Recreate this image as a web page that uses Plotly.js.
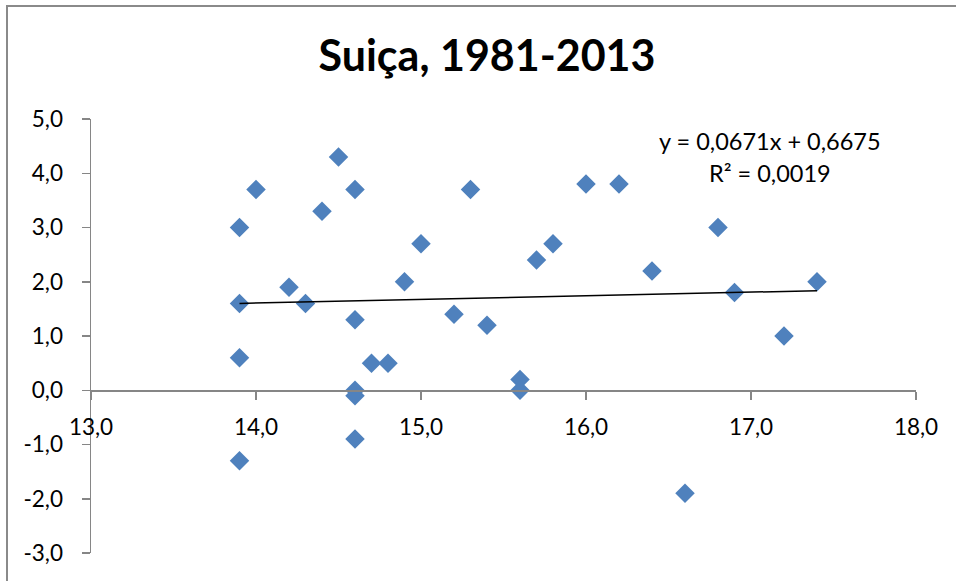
<!DOCTYPE html>
<html>
<head>
<meta charset="utf-8">
<script src="https://cdn.plot.ly/plotly-3.0.1.min.js"></script>
<style>
  html, body { margin: 0; padding: 0; background: #ffffff; }
  #wrap { position: relative; width: 956px; height: 581px; overflow: hidden; }
  #chart { position: absolute; left: 0; top: 0; width: 956px; height: 581px; }
  #frame { position: absolute; left: 6px; top: 5px; width: 1200px; height: 900px;
           border-left: 2px solid #8a8a8a; border-top: 2px solid #8a8a8a; pointer-events: none; }
</style>
</head>
<body>
<div id="wrap">
  <div id="chart"></div>
  <div id="frame"></div>
</div>
<script>
// Data (Suiça, 1981-2013)
const xVals = [13.9, 13.9, 13.9, 13.9, 14.0, 14.2, 14.3, 14.4, 14.5, 14.6, 14.6, 14.6, 14.6, 14.6,
               14.7, 14.8, 14.9, 15.0, 15.2, 15.3, 15.4, 15.6, 15.6, 15.7, 15.8, 16.0, 16.2, 16.4,
               16.6, 16.8, 16.9, 17.2, 17.4];
const yVals = [3.0, 1.6, 0.6, -1.3, 3.7, 1.9, 1.6, 3.3, 4.3, 3.7, 1.3, 0.0, -0.1, -0.9,
               0.5, 0.5, 2.0, 2.7, 1.4, 3.7, 1.2, 0.2, 0.0, 2.4, 2.7, 3.8, 3.8, 2.2,
               -1.9, 3.0, 1.8, 1.0, 2.0];
const trendSlope = 0.0671;
const trendIntercept = 0.6675;
const rSquared = 0.0019;
const titleText = 'Suiça, 1981-2013';
const xTicks = [13, 14, 15, 16, 17, 18];
const yTicks = [-3, -2, -1, 0, 1, 2, 3, 4, 5];

const fmt = (v, d) => v.toFixed(d).replace('.', ',');

const xMin = Math.min(...xVals), xMax = Math.max(...xVals);
const trendX = [xMin, xMax];
const trendY = trendX.map(x => trendSlope * x + trendIntercept);

const FONT = 'Lato, "Open Sans", sans-serif';
const AXIS_COLOR = '#868686';

const traces = [
  {
    type: 'scatter', mode: 'markers', x: xVals, y: yVals,
    marker: { symbol: 'diamond', size: 15, color: '#4F81BD', line: { width: 0 } },
    hoverinfo: 'x+y', showlegend: false
  },
  {
    type: 'scatter', mode: 'lines', x: trendX, y: trendY,
    line: { color: '#000000', width: 1.5 }, hoverinfo: 'skip', showlegend: false
  }
];

const layout = {
  width: 956, height: 581,
  margin: { l: 91, r: 40, t: 119, b: 28, pad: 0 },
  paper_bgcolor: 'rgba(0,0,0,0)', plot_bgcolor: 'rgba(0,0,0,0)',
  separators: ', ',
  font: { family: FONT, size: 22, color: '#000000' },
  title: {
    text: '<b>' + titleText + '</b>',
    font: { family: FONT, size: 43, color: '#000000' },
    xref: 'container', yref: 'container',
    x: 487 / 956, y: 1 - 56 / 581, xanchor: 'center', yanchor: 'middle'
  },
  xaxis: {
    range: [13, 18], tickvals: xTicks, ticktext: xTicks.map(v => fmt(v, 1)),
    showgrid: false, zeroline: false, showline: true, linecolor: AXIS_COLOR, linewidth: 1.5,
    ticks: 'outside', ticklen: 8, tickwidth: 1.5, tickcolor: AXIS_COLOR,
    anchor: 'free', position: 0.375, ticklabelstandoff: 8,
    tickfont: { family: FONT, size: 22.5, color: '#000000' }, fixedrange: true
  },
  yaxis: {
    range: [-3, 5], tickvals: yTicks, ticktext: yTicks.map(v => fmt(v, 1)),
    showgrid: false, zeroline: false, showline: true, linecolor: AXIS_COLOR, linewidth: 1.5,
    ticks: 'outside', ticklen: 8, tickwidth: 1.5, tickcolor: AXIS_COLOR,
    ticklabelstandoff: 14,
    tickfont: { family: FONT, size: 22.5, color: '#000000' }, fixedrange: true
  },
  annotations: [
    {
      xref: 'paper', yref: 'paper', x: 0.823, y: 0.949, xanchor: 'center', yanchor: 'middle',
      text: 'y = ' + fmt(trendSlope, 4) + 'x + ' + fmt(trendIntercept, 4),
      showarrow: false, font: { family: FONT, size: 23.5, color: '#000000' }
    },
    {
      xref: 'paper', yref: 'paper', x: 0.823, y: 0.876, xanchor: 'center', yanchor: 'middle',
      text: 'R² = ' + fmt(rSquared, 4),
      showarrow: false, font: { family: FONT, size: 23.5, color: '#000000' }
    }
  ]
};

Plotly.newPlot('chart', traces, layout, { displayModeBar: false, staticPlot: true });
</script>
</body>
</html>
